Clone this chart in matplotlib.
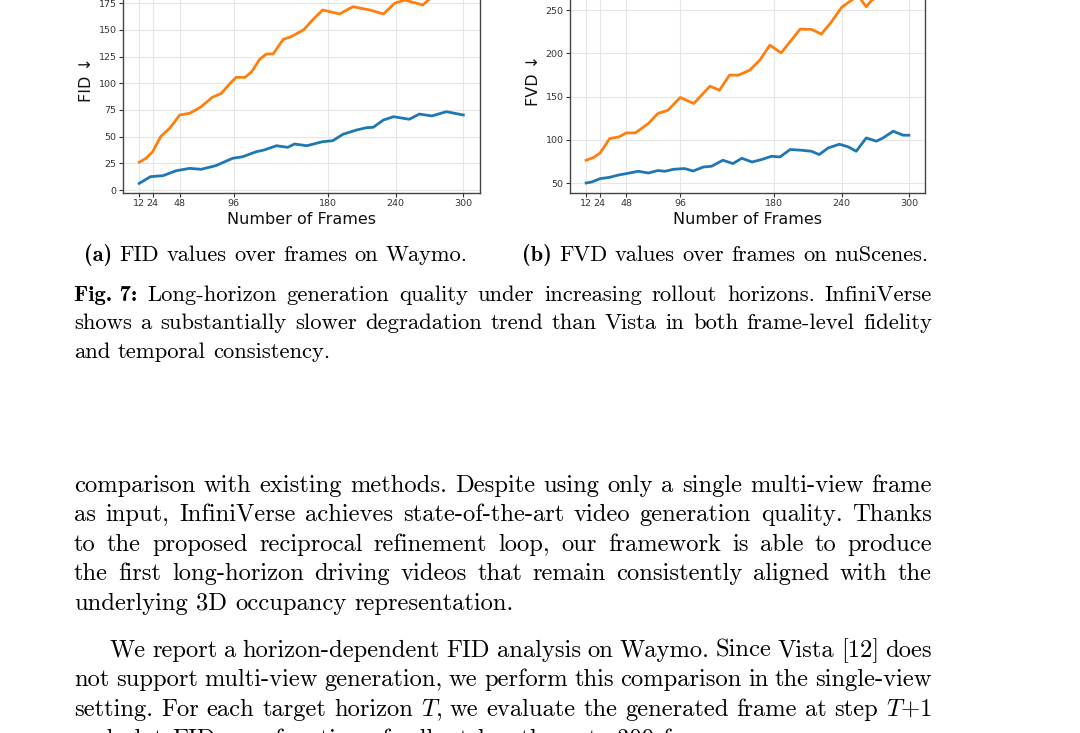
import matplotlib
matplotlib.use('Agg')
import matplotlib.pyplot as plt

plt.rcParams['mathtext.fontset'] = 'cm'

# ---------------- data ----------------
frame_ticks = [12, 24, 48, 96, 180, 240, 300]
fid_yticks = [0, 25, 50, 75, 100, 125, 150, 175, 200]
fvd_yticks = [50, 100, 150, 200, 250]

fid_vista_frames = [12, 18, 24, 31, 39, 48, 57, 67, 77, 85, 92, 98, 106, 112, 119, 125,
                    131, 140, 147, 158, 166, 175, 190, 202, 217, 229, 239, 248, 264, 270,
                    280, 290, 300]
fid_vista = [26, 29.7, 35.9, 50, 57.8, 70.3, 71.9, 78, 86.9, 90.6, 99, 105.6, 105.6, 110.9,
             122.5, 127.5, 127.5, 141.2, 143.7, 150, 159.3, 168.7, 165, 171.8, 168.7, 165,
             175, 178, 173.4, 179, 184, 187, 190]

fid_ours_frames = [12, 22, 33, 45, 57, 67, 80, 95, 104, 116, 123, 134, 144, 150, 161, 175,
                   184, 193, 205, 214, 220, 229, 238, 252, 261, 272, 285, 300]
fid_ours = [6.2, 12.5, 13.4, 18.1, 20.3, 19.4, 22.8, 29.7, 31.2, 35.9, 37.5, 41.5, 40, 43.1,
            41.5, 45.3, 46.2, 52.2, 56.2, 58.4, 58.8, 65.6, 68.7, 66.3, 71.2, 69.4, 73.4, 70.3]

fvd_vista_frames = [12, 18.5, 24.5, 33, 41, 48, 56, 67.5, 76, 85, 96, 108, 115, 122.5, 131,
                    140, 148, 158, 167, 176, 186, 194, 203, 213, 222, 231, 240, 249, 255,
                    262, 267, 280, 290, 300]
fvd_vista = [76.6, 79.7, 85, 101.7, 103.5, 108.2, 108.2, 119, 130.6, 134.4, 149.1, 142.1,
             151.7, 162.1, 157.5, 174.9, 174.9, 180.6, 192.2, 209.5, 200.6, 213.4, 228, 227.7,
             222.3, 236.5, 253.1, 261.6, 266, 253.8, 261.6, 270, 275, 280]

fvd_ours_frames = [12, 17, 24.5, 33, 41, 48, 58.5, 67.5, 76, 82.5, 90, 100, 107.5, 116.5,
                   124, 134, 143, 151, 160, 168.5, 177.5, 185, 194, 204, 213, 220, 228, 238,
                   246, 253, 262, 271, 277, 286, 295, 300]
fvd_ours = [50.4, 51.5, 55.4, 56.9, 59.6, 61.2, 63.9, 61.9, 64.7, 63.9, 66.2, 67, 64.2, 68.8,
            69.7, 76.6, 72.8, 78.9, 74.6, 77.4, 81.2, 80.4, 89, 88.2, 87, 83.2, 90.8, 95.1,
            92, 87, 102.4, 98.6, 102.4, 110.1, 105.5, 105.5]

subcaption_a = "(a) FID values over frames on Waymo."
subcaption_b = "(b) FVD values over frames on nuScenes."
caption_lines = [
    "Fig.~7: Long-horizon generation quality under increasing rollout horizons. InfiniVerse",
    "shows a substantially slower degradation trend than Vista in both frame-level fidelity",
    "and temporal consistency.",
]
para1 = [
    "comparison with existing methods. Despite using only a single multi-view frame",
    "as input, InfiniVerse achieves state-of-the-art video generation quality. Thanks",
    "to the proposed reciprocal refinement loop, our framework is able to produce",
    "the first long-horizon driving videos that remain consistently aligned with the",
    "underlying 3D occupancy representation.",
]
para2 = [
    "We report a horizon-dependent FID analysis on Waymo. Since Vista [12] does",
    "not support multi-view generation, we perform this comparison in the single-view",
    "setting. For each target horizon $T$, we evaluate the generated frame at step $T{+}1$",
    "and plot FID as a function of rollout length up to 300 frames.",
]

# ---------------- figure ----------------
W, H = 1080, 733
fig = plt.figure(figsize=(W / 100, H / 100), dpi=100)
fig.patch.set_facecolor('white')


def px_axes(l, r, top, bottom):
    return [l / W, 1 - bottom / H, (r - l) / W, (bottom - top) / H]


BLUE = '#1f77b4'
ORANGE = '#ff7f0e'


def style(ax, ylabel, ylim, yticks):
    ax.set_xlim(-2.4, 314.4)
    ax.set_ylim(*ylim)
    ax.set_xticks(frame_ticks)
    ax.set_yticks(yticks)
    ax.tick_params(labelsize=6.8, length=2.6, width=0.8, colors='#333333', pad=2.0)
    ax.grid(True, color='#e6e6e6', linewidth=0.8)
    ax.set_axisbelow(True)
    for s in ax.spines.values():
        s.set_color('#444444')
        s.set_linewidth(1.0)
    ax.set_xlabel('Number of Frames', fontsize=11.5, color='#111111', labelpad=2.5)
    ax.set_ylabel(ylabel, fontsize=11.5, color='#111111', labelpad=3.5)


ax1 = fig.add_axes(px_axes(123, 479.5, -33, 193))
ax1.plot(fid_vista_frames, fid_vista, color=ORANGE, lw=2.0, solid_joinstyle='round')
ax1.plot(fid_ours_frames, fid_ours, color=BLUE, lw=2.0, solid_joinstyle='round')
style(ax1, 'FID \u2193', (-2.8, 209), fid_yticks)

ax2 = fig.add_axes(px_axes(570, 925, -33, 193))
ax2.plot(fvd_vista_frames, fvd_vista, color=ORANGE, lw=2.0, solid_joinstyle='round')
ax2.plot(fvd_ours_frames, fvd_ours, color=BLUE, lw=2.0, solid_joinstyle='round')
style(ax2, 'FVD \u2193', (38.8, 299.7), fvd_yticks)

# ---------------- page text ----------------
tax = fig.add_axes([0, 0, 1, 1], zorder=-1)
tax.set_xlim(0, W)
tax.set_ylim(H, 0)
tax.axis('off')
fig.canvas.draw()
renderer = fig.canvas.get_renderer()

ROMAN = 'cmr10'
BOLD = 'cmb10'
SPACE_EM = 0.333
TXT = '#000000'


def split(text, nbold):
    parts = text.split(' ')
    return [(p.replace('~', ' '), BOLD if i < nbold else ROMAN) for i, p in enumerate(parts)]


def word_widths(words, size):
    ws = []
    for w, fam in words:
        t = tax.text(0, 0, w, fontsize=size, family=fam)
        ws.append(t.get_window_extent(renderer).width)
        t.remove()
    return ws


def natural_width(words, size):
    ws = word_widths(words, size)
    return sum(ws) + SPACE_EM * size * 100 / 72 * (len(ws) - 1)


def fit_size(text, nbold, target):
    return 10 * target / natural_width(split(text, nbold), 10)


def draw_line(text, nbold, x0, baseline, size, x1=None):
    words = split(text, nbold)
    ws = word_widths(words, size)
    if x1 is None or len(ws) == 1:
        gap = SPACE_EM * size * 100 / 72
    else:
        gap = (x1 - x0 - sum(ws)) / (len(ws) - 1)
    x = x0
    for (w, fam), wd in zip(words, ws):
        tax.text(x, baseline, w, fontsize=size, family=fam, va='baseline', ha='left',
                 color=TXT)
        x += wd + gap


LEFT, RIGHT = 74, 932
sub_size = fit_size(subcaption_b, 1, 930 - 522)
cap_size = fit_size(caption_lines[2], 0, 331.5 - LEFT)
body_size = fit_size(para1[4], 0, 515 - LEFT)

draw_line(subcaption_a, 1, 84, 261, sub_size)
draw_line(subcaption_b, 1, 522, 261, sub_size)

cap_base = [301, 329.4, 357.8]
for i, line in enumerate(caption_lines):
    draw_line(line, 1 if i == 0 else 0, LEFT, cap_base[i], cap_size,
              RIGHT if i < 2 else None)

p1_base = [491.6, 521.2, 550.8, 580.4, 610]
for i, line in enumerate(para1):
    draw_line(line, 0, LEFT, p1_base[i], body_size, RIGHT if i < 4 else None)

p2_base = [656.8, 686.4, 716, 745.6]
for i, line in enumerate(para2):
    x0 = LEFT + 36 if i == 0 else LEFT
    draw_line(line, 0, x0, p2_base[i], body_size, RIGHT if i < 3 else None)

fig.savefig('out.png', dpi=100, facecolor='white')
